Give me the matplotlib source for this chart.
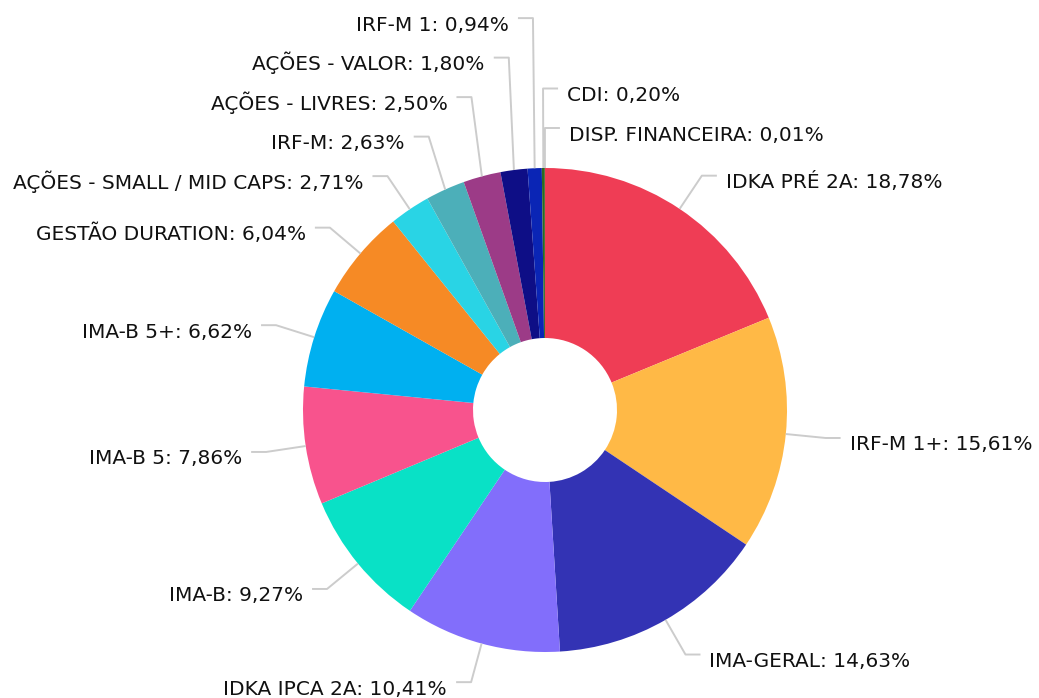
import numpy as np
import matplotlib.pyplot as plt

# fatias na ordem do gráfico (sentido horário a partir do topo)
names = ['IDKA PRÉ 2A', 'IRF-M 1+', 'IMA-GERAL', 'IDKA IPCA 2A', 'IMA-B',
         'IMA-B 5', 'IMA-B 5+', 'GESTÃO DURATION', 'AÇÕES - SMALL / MID CAPS',
         'IRF-M', 'AÇÕES - LIVRES', 'AÇÕES - VALOR', 'IRF-M 1', 'CDI',
         'DISP. FINANCEIRA']
shares = [18.78, 15.61, 14.63, 10.41, 9.27, 7.86, 6.62, 6.04, 2.71,
          2.63, 2.50, 1.80, 0.94, 0.20, 0.01]
colors = ['#EF3D55', '#FFB946', '#3333B4', '#826EFB', '#09E1C6',
          '#F8538D', '#00B0F0', '#F68A25', '#29D4E5', '#4CAFB9',
          '#9C3B87', '#0E0E86', '#0A25B5', '#2D6A1F', '#7A7A7A']

W, H = 1039, 698
fig = plt.figure(figsize=(W / 100, H / 100), dpi=100)
ax = fig.add_axes([0, 0, 1, 1])

cx, cy = 545, 288
r_out, r_in = 242, 72
r_lab = 282
spacing = 39.5

ax.pie(shares, colors=colors, startangle=90, counterclock=False,
       center=(cx, cy), radius=r_out,
       wedgeprops=dict(width=r_out - r_in, linewidth=0))
ax.set_xlim(0, W)
ax.set_ylim(0, H)
ax.set_aspect('equal')
ax.axis('off')

total = sum(shares)
cum = np.cumsum([0] + shares[:-1])
theta = [360.0 * (c + s / 2) / total for c, s in zip(cum, shares)]

right = []
left = []
for i, t in enumerate(theta):
    if np.sin(np.radians(t)) > -0.01:
        right.append(i)
    else:
        left.append(i)

# de cima para baixo
right.sort(key=lambda i: theta[i] if theta[i] < 180 else theta[i] - 360)
left.sort(key=lambda i: -theta[i])

ylab = {}
for side in (right, left):
    prev = None
    for i in reversed(side):
        y = cy + r_lab * np.cos(np.radians(theta[i]))
        if prev is not None:
            y = max(y, prev + spacing)
        ylab[i] = y
        prev = y

for i, t in enumerate(theta):
    a = np.radians(t)
    ax_, ay_ = cx + r_out * np.sin(a), cy + r_out * np.cos(a)
    bx = cx + r_lab * np.sin(a)
    by = ylab[i]
    sgn = 1 if i in right else -1
    ex = bx + sgn * 15
    ax.plot([ax_, bx, ex], [ay_, by, by], color='#CCCCCC', lw=1.4,
            solid_capstyle='butt', zorder=1)
    val = f'{shares[i]:.2f}'.replace('.', ',')
    txt = f'{names[i]}: {val}%'
    ax.text(ex + sgn * 9, by - 12.5, txt, ha='left' if sgn > 0 else 'right',
            va='baseline', fontsize=14.5, color='#111111')

fig.savefig('out.png', dpi=100)
